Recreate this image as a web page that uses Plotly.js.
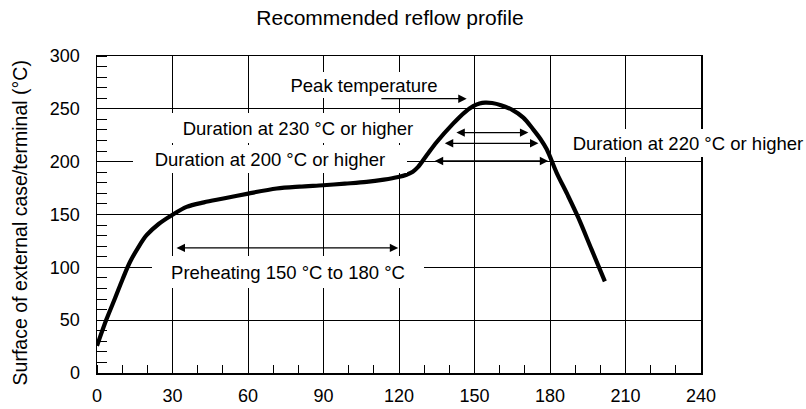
<!DOCTYPE html>
<html>
<head>
<meta charset="utf-8">
<script src="https://cdn.plot.ly/plotly-3.0.1.min.js"></script>
<style>html,body{margin:0;padding:0;background:#fff;}#chart{width:806px;height:409px;}</style>
</head>
<body>
<div id="chart"></div>
<script>
// Reflow profile curve (time in s, temperature in °C)
const timeSec = [0, 3.8, 7.2, 10.2, 13.1, 16.3, 19.7, 24.5, 29.7, 35.6, 42.5, 50.2, 60.1, 71.4, 80.5, 89.9, 98.5, 107.1, 114, 119.7, 123, 125.5, 127.6, 131, 135, 141.5, 146, 149.5, 152, 154.2, 157, 160.5, 165, 169.4, 173.3, 176.2, 178.7, 182.6, 187, 191.2, 196.5, 201.8];
const tempC   = [25.8, 51, 71, 89, 105, 118.5, 130.4, 141, 149.3, 157.2, 161.5, 165.1, 169.8, 174.6, 176.4, 177.7, 179.2, 180.8, 183, 185.5, 187.7, 190.5, 195, 206, 218.6, 236, 246.5, 252.5, 255, 255.9, 255.5, 253.5, 249, 241.7, 230.6, 221.5, 211.7, 189.7, 168.5, 147.2, 117, 86.7];

// Label texts and anchor points
const labelTexts = ["Peak temperature", "Duration at 230 °C or higher", "Duration at 200 °C or higher", "Preheating 150 °C to 180 °C", "Duration at 220 °C or higher"];
const labelX = [106.2, 80, 68.7, 75.9, 234.8];
const labelY = [272.5, 232, 202.7, 95.7, 218];

// Dimension arrows: start x, end x, y level, both ends?
const arrowX0 = [112.4, 142.2, 137.6, 133.6, 31.0];
const arrowX1 = [146.9, 171.4, 175.4, 179.3, 119.7];
const arrowY  = [259.6, 227.5, 217.4, 200.7, 118.4];
const arrowBoth = [false, true, true, true, true];

const xTicks = [0, 30, 60, 90, 120, 150, 180, 210, 240];
const yTicks = [0, 50, 100, 150, 200, 250, 300];

const FONT = '"Liberation Sans", Arial, Helvetica, sans-serif';

// label box sizes (px) – layout only
const boxW = [160, 262, 274, 272, 246];
const boxH = [26, 30, 28, 32, 28];

const annotations = [];
labelTexts.forEach((t, i) => {
  annotations.push({
    x: labelX[i], y: labelY[i], xref: 'x', yref: 'y',
    text: t, showarrow: false, xanchor: 'center', yanchor: 'middle',
    font: {family: FONT, size: 18.5, color: '#000'},
    bgcolor: '#fff', borderpad: 0, borderwidth: 0,
    width: boxW[i], height: boxH[i]
  });
});
arrowX0.forEach((x0, i) => {
  annotations.push({
    x: arrowX1[i], y: arrowY[i], ax: x0, ay: arrowY[i],
    xref: 'x', yref: 'y', axref: 'x', ayref: 'y',
    text: '', showarrow: true, arrowhead: 2, startarrowhead: 2,
    arrowside: arrowBoth[i] ? 'end+start' : 'end',
    arrowsize: 1.3, startarrowsize: 1.3, arrowwidth: 1.3, arrowcolor: '#000',
    standoff: 0, startstandoff: 0
  });
});
// y-axis title as rotated annotation
annotations.push({
  xref: 'paper', yref: 'paper', x: -0.1275, y: 0.475,
  text: 'Surface of external case/terminal (°C)', textangle: -90,
  showarrow: false, xanchor: 'center', yanchor: 'middle',
  font: {family: FONT, size: 19.5, color: '#000'}
});

const trace = {
  x: timeSec, y: tempC, type: 'scatter', mode: 'lines',
  line: {color: '#000', width: 4.2, shape: 'spline', smoothing: 0.9},
  hoverinfo: 'skip'
};

const layout = {
  width: 806, height: 409,
  margin: {l: 97, r: 105, t: 56, b: 36},
  paper_bgcolor: '#fff', plot_bgcolor: '#fff',
  showlegend: false,
  font: {family: FONT, size: 18, color: '#000'},
  title: {
    text: 'Recommended reflow profile',
    font: {family: FONT, size: 21, color: '#000'},
    x: 0.485, xref: 'paper', xanchor: 'center',
    y: 0.956, yref: 'container', yanchor: 'middle'
  },
  xaxis: {
    range: [0, 240], tickmode: 'array', tickvals: xTicks,
    showgrid: true, gridcolor: '#000', gridwidth: 1,
    zeroline: false, showline: true, linecolor: '#000', linewidth: 1.5, mirror: true,
    ticks: '', ticklabelstandoff: 6,
    tickfont: {family: FONT, size: 18, color: '#000'},
    minor: {dtick: 10, tick0: 0, ticks: 'inside', ticklen: 8, tickwidth: 1, tickcolor: '#000', showgrid: false},
    fixedrange: true
  },
  yaxis: {
    range: [0, 300], tickmode: 'array', tickvals: yTicks,
    showgrid: true, gridcolor: '#000', gridwidth: 1,
    zeroline: false, showline: true, linecolor: '#000', linewidth: 1.5, mirror: true,
    ticks: '', ticklabelstandoff: 12,
    tickfont: {family: FONT, size: 18, color: '#000'},
    minor: {dtick: 10, tick0: 0, ticks: 'inside', ticklen: 10, tickwidth: 1, tickcolor: '#000', showgrid: false},
    fixedrange: true
  },
  annotations: annotations
};

Plotly.newPlot('chart', [trace], layout, {staticPlot: true, displayModeBar: false});
</script>
</body>
</html>
